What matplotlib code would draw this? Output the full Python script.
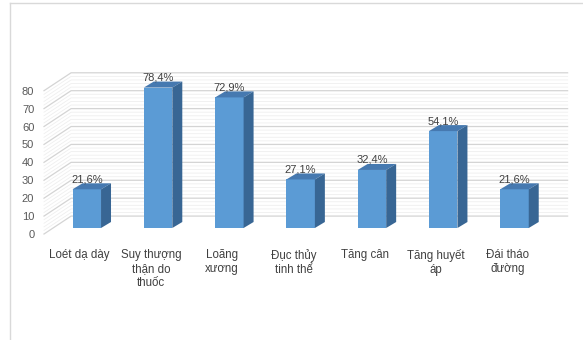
import matplotlib
matplotlib.use("Agg")
import matplotlib.pyplot as plt
from matplotlib.patches import Polygon, Rectangle
from matplotlib.lines import Line2D

plt.rcParams['font.family'] = ['Liberation Sans', 'DejaVu Sans']

# Data
categories = ["Loét dạ dày", "Suy thượng\nthận do\nthuốc", "Loãng\nxương",
              "Đục thủy\ntinh thể", "Tăng cân", "Tăng huyết\náp", "Đái tháo\nđường"]
values = [21.6, 78.4, 72.9, 27.1, 32.4, 54.1, 21.6]
value_labels = ["21,6%", "78,4%", "72,9%", "27,1%", "32,4%", "54,1%", "21,6%"]
yticks = [0, 10, 20, 30, 40, 50, 60, 70, 80]

# Pseudo-3D geometry (data units)
wall_dx, wall_dy = 0.38, 10.0     # back wall offset from front plane
bar_dx, bar_dy = 0.10, 3.35       # bar front face offset
depth_dx, depth_dy = 0.14, 3.35   # bar depth
bar_w = 0.40
x_right = 6.845

front_col = '#5B9BD5'
top_col = '#4679B0'
side_col = '#386694'

fig = plt.figure(figsize=(5.83, 3.4), dpi=100)
ax = fig.add_axes([44 / 583, 106 / 340, 499 / 583, 143.3 / 340])
ax.set_xlim(-0.5, 6.5)
ax.set_ylim(0, 80)
for s in ax.spines.values():
    s.set_visible(False)

# gridlines: minor then major
for v in range(0, 81, 2):
    major = v % 10 == 0
    col = '#d4d4d4' if major else '#efefef'
    lw = 0.9 if major else 0.6
    ax.plot([-0.5, -0.5 + wall_dx, x_right], [v, v + wall_dy, v + wall_dy],
            color=col, lw=lw, clip_on=False, zorder=1 if not major else 1.5)

# bars
for i, (v, lab) in enumerate(zip(values, value_labels)):
    x0 = i + bar_dx - bar_w / 2
    y0 = bar_dy
    ax.add_patch(Rectangle((x0, y0), bar_w, v, facecolor=front_col,
                           edgecolor='none', clip_on=False, zorder=3))
    ax.add_patch(Polygon([(x0, y0 + v), (x0 + bar_w, y0 + v),
                          (x0 + bar_w + depth_dx, y0 + v + depth_dy),
                          (x0 + depth_dx, y0 + v + depth_dy)],
                         closed=True, facecolor=top_col, edgecolor='none',
                         clip_on=False, zorder=3))
    ax.add_patch(Polygon([(x0 + bar_w, y0), (x0 + bar_w + depth_dx, y0 + depth_dy),
                          (x0 + bar_w + depth_dx, y0 + v + depth_dy),
                          (x0 + bar_w, y0 + v)],
                         closed=True, facecolor=side_col, edgecolor='none',
                         clip_on=False, zorder=3))
    ax.text(i + bar_dx, y0 + v + depth_dy + 0.6, lab, ha='center', va='baseline',
            fontsize=8, color='#404040', zorder=4, clip_on=False)

ax.set_yticks(yticks)
ax.set_yticklabels([str(t) for t in yticks], fontsize=8, color='#595959')
ax.set_xticks(range(len(categories)))
ax.set_xticklabels(categories, fontsize=8.3, color='#404040', linespacing=1.2,
                   va='top')
ax.tick_params(axis='y', length=0, pad=7)
ax.tick_params(axis='x', length=0, pad=11)

# chart frame (left and top edges visible)
fig.add_artist(Line2D([9.5 / 583, 9.5 / 583], [0, 1 - 3 / 340],
                      transform=fig.transFigure, color='#d9d9d9', lw=1))
fig.add_artist(Line2D([9.5 / 583, 1], [1 - 3 / 340, 1 - 3 / 340],
                      transform=fig.transFigure, color='#d9d9d9', lw=1))

fig.savefig("out.png", dpi=100, facecolor='white')
